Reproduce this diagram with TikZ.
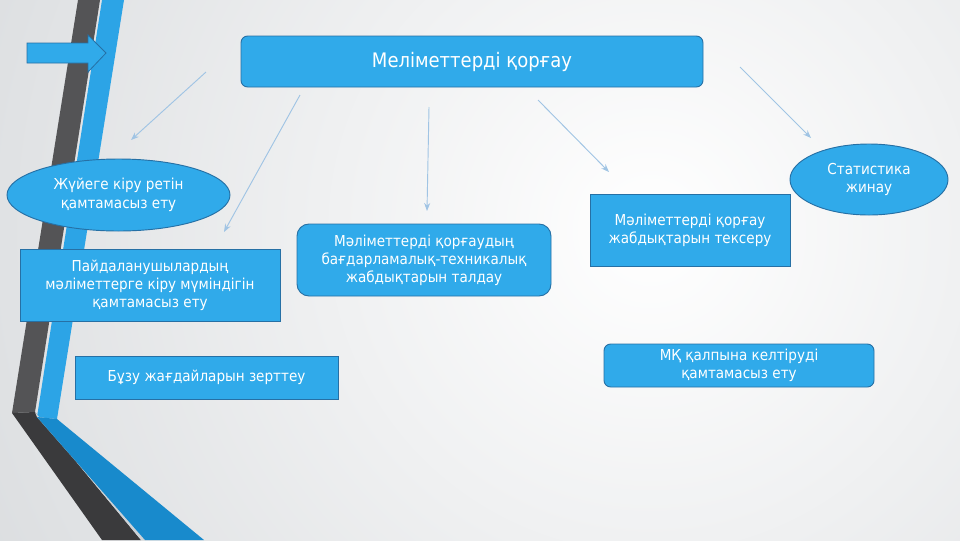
\documentclass[tikz,border=0pt]{standalone}
\usepackage{fontspec}
\setmainfont{DejaVu Sans}[FakeStretch=0.9]
\usetikzlibrary{arrows.meta,shapes.geometric}
\definecolor{bgg}{RGB}{178,183,188}
\definecolor{boxblue}{RGB}{48,170,234}
\definecolor{boxedge}{RGB}{38,112,165}
\definecolor{darkup}{RGB}{84,84,86}
\definecolor{darklow}{RGB}{58,58,60}
\definecolor{blueup}{RGB}{44,164,230}
\definecolor{bluelow}{RGB}{24,138,204}
\definecolor{gapline}{RGB}{205,210,214}
\definecolor{arrowc}{RGB}{160,196,228}
\begin{document}
\begin{tikzpicture}[x=0.75pt,y=-0.75pt,
  boxbase/.style={fill=boxblue,draw=boxedge,line width=0.7pt,text=white,align=center,inner sep=0pt,
    font=\fontsize{11.3}{13.5}\selectfont},
  sqbox/.style={boxbase,rectangle},
  rbox/.style={boxbase,rectangle,rounded corners=#1},
  ebox/.style={boxbase,ellipse},
  link/.style={arrowc,line width=0.7pt,-{Stealth[length=6pt,width=4.5pt]}}]
\useasboundingbox (0,0) rectangle (960,540);
% background
\begin{scope}
\clip (0,0) rectangle (960,540);
\fill[bgg] (0,0) rectangle (960,540);
\shade[inner color=white,outer color=bgg] (650,230) circle[radius=1200pt];
\end{scope}
% decorative stripes
\fill[darkup] (78,0) -- (100,0) -- (35,412) -- (12,413) -- cycle;
\fill[darklow] (12,413) -- (35,412) -- (141,540) -- (102,540) -- cycle;
\fill[blueup] (102,0) -- (124,0) -- (57,419) -- (37,417) -- cycle;
\fill[gapline] (35,412) -- (37,417) -- (145,540) -- (141,540) -- cycle;
\fill[bluelow] (37,417) -- (57,419) -- (204,540) -- (145,540) -- cycle;
% block arrow
\draw[fill=boxblue,draw=boxedge,line width=0.6pt] (27,43) -- (88,43) -- (88,35) -- (106,53) -- (88,72) -- (88,63) -- (27,63) -- cycle;
% nodes
\node[rbox=5pt,minimum width=346.5pt,minimum height=38.25pt,font=\fontsize{15}{18}\selectfont] (top) at (472,61.5) {Меліметтерді қорғау};
\node[ebox,minimum width=167.25pt,minimum height=54pt,font=\fontsize{11.3}{14.2}\selectfont] (access) at (118.5,195) {Жүйеге кіру ретін\\қамтамасыз ету};
\node[sqbox,minimum width=195pt,minimum height=54pt] (users) at (150,285) {Пайдаланушылардың\\мәліметтерге кіру мүміндігін\\қамтамасыз ету};
\node[sqbox,minimum width=197.25pt,minimum height=32.25pt] (breach) at (206.5,377.5) {Бұзу жағдайларын зерттеу};
\node[rbox=9pt,minimum width=190.5pt,minimum height=54pt] (analysis) at (424,260) {Мәліметтерді қорғаудың\\бағдарламалық-техникалық\\жабдықтарын талдау};
\node[sqbox,minimum width=150pt,minimum height=54pt] (check) at (690,230) {Мәліметтерді қорғау\\жабдықтарын тексеру};
\node[ebox,minimum width=118.5pt,minimum height=53.25pt] (stat) at (869,179.5) {Статистика\\жинау};
\node[rbox=5pt,minimum width=202.5pt,minimum height=32.25pt] (restore) at (739,365.5) {МҚ қалпына келтіруді\\қамтамасыз ету};
% connector end points
\coordinate (a1) at (206,72);  \coordinate (a2) at (131,140);
\coordinate (b1) at (300,95);  \coordinate (b2) at (224,232);
\coordinate (c1) at (429,107); \coordinate (c2) at (427,211);
\coordinate (d1) at (538,100); \coordinate (d2) at (609,172);
\coordinate (e1) at (740,67);  \coordinate (e2) at (811,138);
\draw[link] (a1) -- (a2);
\draw[link] (b1) -- (b2);
\draw[link] (c1) -- (c2);
\draw[link] (d1) -- (d2);
\draw[link] (e1) -- (e2);
\end{tikzpicture}
\end{document}
